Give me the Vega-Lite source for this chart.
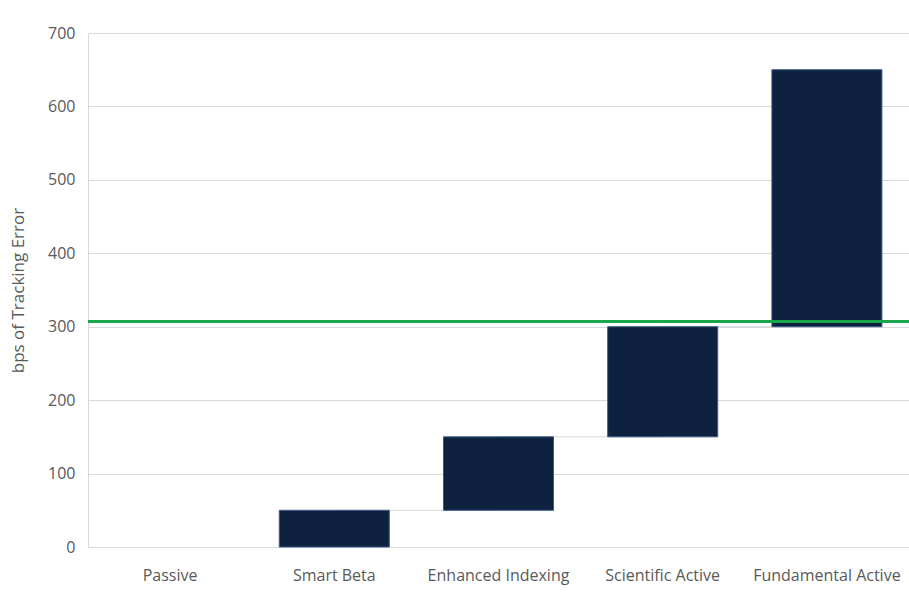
{
  "$schema": "https://vega.github.io/schema/vega-lite/v6.json",
  "width": 821,
  "height": 514,
  "autosize": {"type": "none"},
  "padding": {"left": 88, "top": 33, "right": 0, "bottom": 52},
  "background": "white",
  "config": {
    "font": "Open Sans",
    "view": {"stroke": null},
    "axis": {
      "labelFont": "Open Sans",
      "titleFont": "Open Sans",
      "labelColor": "#595959",
      "titleColor": "#595959",
      "labelFontSize": 16,
      "titleFontSize": 17,
      "titleFontWeight": "normal",
      "domainColor": "#d9d9d9",
      "gridColor": "#d9d9d9",
      "ticks": false
    }
  },
  "datasets": {
    "steps": [
      {"approach": "Passive", "low": 0, "high": 0},
      {"approach": "Smart Beta", "low": 0, "high": 50},
      {"approach": "Enhanced Indexing", "low": 50, "high": 150},
      {"approach": "Scientific Active", "low": 150, "high": 300},
      {"approach": "Fundamental Active", "low": 300, "high": 650}
    ],
    "links": [
      {"from": "Smart Beta", "to": "Enhanced Indexing", "level": 50},
      {"from": "Enhanced Indexing", "to": "Scientific Active", "level": 150},
      {"from": "Scientific Active", "to": "Fundamental Active", "level": 300}
    ],
    "benchmark": [
      {"level": 307}
    ]
  },
  "layer": [
    {
      "data": {"name": "links"},
      "mark": {"type": "rule", "color": "#d9d9d9", "strokeWidth": 1},
      "encoding": {
        "x": {
          "field": "from",
          "type": "nominal",
          "scale": {
            "domain": ["Passive", "Smart Beta", "Enhanced Indexing", "Scientific Active", "Fundamental Active"],
            "paddingInner": 0.33,
            "paddingOuter": 0.165
          },
          "axis": {"title": null, "labelAngle": 0, "labelPadding": 20, "domain": true}
        },
        "x2": {"field": "to"},
        "y": {
          "field": "level",
          "type": "quantitative",
          "scale": {"domain": [0, 700], "nice": false},
          "axis": {
            "title": "bps of Tracking Error",
            "values": [0, 100, 200, 300, 400, 500, 600, 700],
            "labelPadding": 13,
            "titlePadding": 20,
            "domain": true,
            "grid": true
          }
        }
      }
    },
    {
      "data": {"name": "steps"},
      "mark": {"type": "bar", "fill": "#0e2240"},
      "encoding": {
        "x": {"field": "approach", "type": "nominal"},
        "y": {"field": "low", "type": "quantitative"},
        "y2": {"field": "high"},
        "stroke": {
          "condition": {"test": "datum.high > datum.low", "value": "#3b5a86"},
          "value": null
        },
        "strokeWidth": {"value": 1}
      }
    },
    {
      "data": {"name": "benchmark"},
      "mark": {"type": "rule", "color": "#1aa64a", "strokeWidth": 3},
      "encoding": {"y": {"field": "level", "type": "quantitative"}}
    }
  ]
}
